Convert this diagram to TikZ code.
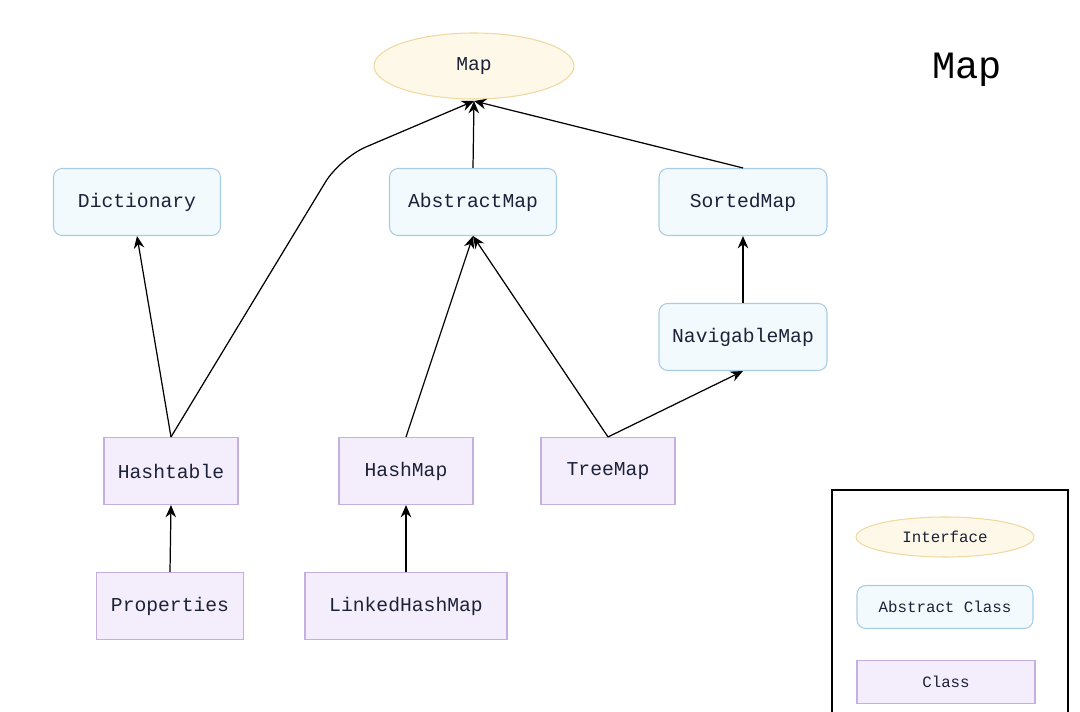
\documentclass[tikz,border=0pt]{standalone}
\usepackage{fontspec}
\setmonofont{Liberation Mono}
\usetikzlibrary{arrows.meta,shapes.geometric}
\definecolor{clsfill}{HTML}{F4EEFC}
\definecolor{clsdraw}{HTML}{C4B0E0}
\definecolor{absfill}{HTML}{F2FAFD}
\definecolor{absdraw}{HTML}{A8CCE4}
\definecolor{iffill}{HTML}{FEF8E8}
\definecolor{ifdraw}{HTML}{F0D8A0}
\definecolor{txt}{HTML}{1C2238}
\begin{document}
\begin{tikzpicture}[x=0.02cm,y=-0.02cm,
  every node/.style={font=\ttfamily\fontsize{11.2}{13}\selectfont, text=txt},
  iface/.style={ellipse,draw=ifdraw,fill=iffill,line width=0.6pt},
  abs/.style={rectangle,rounded corners=5pt,draw=absdraw,fill=absfill,line width=0.6pt},
  cls/.style={rectangle,draw=clsdraw,fill=clsfill,line width=0.6pt},
  arr/.style={-{Stealth[length=7pt,width=6pt]},line width=0.7pt,black}]
\useasboundingbox (0,0) rectangle (1080,712);
\node[iface,minimum width=200*0.02cm,minimum height=66*0.02cm] (map) at (474,66) {Map};
\node[abs,minimum width=167*0.02cm,minimum height=67*0.02cm] (dict) at (137,202) {Dictionary};
\node[abs,minimum width=167*0.02cm,minimum height=67*0.02cm] (am) at (473,202) {AbstractMap};
\node[abs,minimum width=168*0.02cm,minimum height=67*0.02cm] (sm) at (743,202) {SortedMap};
\node[abs,minimum width=168*0.02cm,minimum height=67*0.02cm] (nm) at (743,337) {NavigableMap};
\node[cls,minimum width=134*0.02cm,minimum height=67*0.02cm] (ht) at (171,471) {Hashtable};
\node[cls,minimum width=134*0.02cm,minimum height=67*0.02cm] (hm) at (406,471) {HashMap};
\node[cls,minimum width=134*0.02cm,minimum height=67*0.02cm] (tm) at (608,471) {TreeMap};
\node[cls,minimum width=147*0.02cm,minimum height=67*0.02cm] (pr) at (170,606) {Properties};
\node[cls,minimum width=202*0.02cm,minimum height=67*0.02cm] (lhm) at (406,606) {LinkedHashMap};
\node[font=\ttfamily\fontsize{22}{26}\selectfont,text=black] (title) at (967,70) {Map};
\draw[black,line width=0.7pt] (832,712) -- (832,490) -- (1068,490) -- (1068,712);
\node[iface,minimum width=178*0.02cm,minimum height=40*0.02cm,font=\ttfamily\fontsize{9}{10}\selectfont] (li) at (945,537) {Interface};
\node[abs,minimum width=176*0.02cm,minimum height=43*0.02cm,font=\ttfamily\fontsize{9}{10}\selectfont] (la) at (945,607) {Abstract Class};
\node[cls,minimum width=178*0.02cm,minimum height=43*0.02cm,font=\ttfamily\fontsize{9}{10}\selectfont] (lc) at (946,682) {Class};
\coordinate (mapb) at (474,101);
\coordinate (amb) at (473,236);
\draw[arr] (ht.north) -- (dict.south);
\draw[arr,rounded corners=16pt] (ht.north) -- (340,158) -- (mapb);
\draw[arr] (am.north) -- (mapb);
\draw[arr] (sm.north) -- (mapb);
\draw[arr] (hm.north) -- (amb);
\draw[arr] (tm.north) -- (amb);
\draw[arr] (tm.north) -- (nm.south);
\draw[arr] (nm.north) -- (sm.south);
\draw[arr] (pr.north) -- (ht.south);
\draw[arr] (lhm.north) -- (hm.south);
\end{tikzpicture}
\end{document}
